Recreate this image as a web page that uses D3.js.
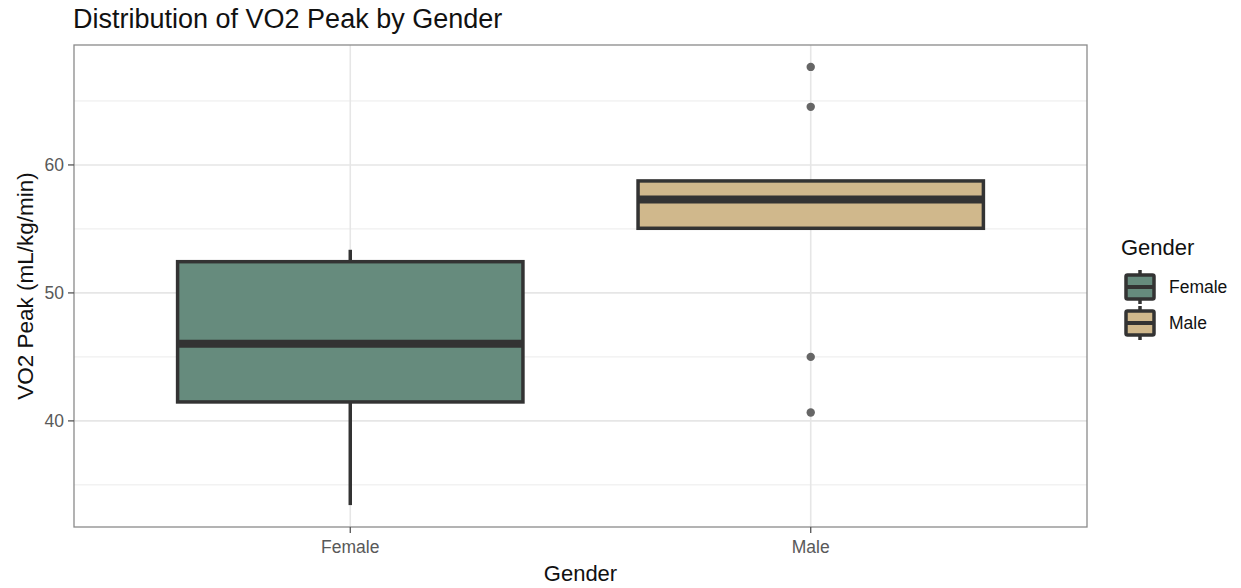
<!DOCTYPE html>
<html><head><meta charset="utf-8">
<script src="https://cdn.jsdelivr.net/npm/d3@7"></script>
<style>body{margin:0;background:#fff}svg{display:block}text{font-family:"Liberation Sans",Arial,sans-serif}</style>
</head><body><svg id="c" width="1241" height="588"></svg>
<script>
const categories = ["Female", "Male"];
const q1 = [41.48, 55.05];
const median = [46.03, 57.3];
const q3 = [52.44, 58.75];
const whiskerLow = [33.42, 55.05];
const whiskerHigh = [53.37, 58.75];
const outliers = [[], [67.66, 64.54, 45.0, 40.65]];
const fills = ["#668B7D", "#D0B88C"];
const yTicks = [40, 50, 60];
const yMinor = [35, 45, 55, 65];

const svg = d3.select("#c");
const L = 74, R = 1087, T = 45, B = 527;
const allVals = whiskerLow.concat(whiskerHigh, outliers.flat());
const lo = d3.min(allVals), hi = d3.max(allVals), pad = (hi - lo) * 0.05;
const y = d3.scaleLinear().domain([lo - pad, hi + pad]).range([B, T]);
// discrete x scale with ggplot-style 0.6 expansion on each side
const x = d3.scaleLinear().domain([0.4, categories.length + 0.6]).range([L, R]);
const xc = c => x(categories.indexOf(c) + 1);
const bw = x(1.75) - x(1);

// grid
const g = svg.append("g");
yMinor.forEach(v => g.append("line").attr("x1", L).attr("x2", R).attr("y1", y(v)).attr("y2", y(v)).attr("stroke", "#ebebeb").attr("stroke-width", 1));
yTicks.forEach(v => g.append("line").attr("x1", L).attr("x2", R).attr("y1", y(v)).attr("y2", y(v)).attr("stroke", "#e6e6e6").attr("stroke-width", 1.6));
categories.forEach(c => g.append("line").attr("x1", xc(c)).attr("x2", xc(c)).attr("y1", T).attr("y2", B).attr("stroke", "#e6e6e6").attr("stroke-width", 1.6));

// boxes
categories.forEach((c, i) => {
  const cx = xc(c);
  const bg = svg.append("g");
  bg.append("line").attr("x1", cx).attr("x2", cx).attr("y1", y(q3[i])).attr("y2", y(whiskerHigh[i])).attr("stroke", "#333").attr("stroke-width", 3.5);
  bg.append("line").attr("x1", cx).attr("x2", cx).attr("y1", y(q1[i])).attr("y2", y(whiskerLow[i])).attr("stroke", "#333").attr("stroke-width", 3.5);
  bg.append("rect").attr("x", cx - bw / 2).attr("width", bw).attr("y", y(q3[i])).attr("height", y(q1[i]) - y(q3[i]))
    .attr("fill", fills[i]).attr("stroke", "#333").attr("stroke-width", 3.5);
  bg.append("line").attr("x1", cx - bw / 2).attr("x2", cx + bw / 2).attr("y1", y(median[i])).attr("y2", y(median[i])).attr("stroke", "#333").attr("stroke-width", 8);
  outliers[i].forEach(v => bg.append("circle").attr("cx", cx).attr("cy", y(v)).attr("r", 4.2).attr("fill", "#666"));
});

// panel border
svg.append("rect").attr("x", L).attr("y", T).attr("width", R - L).attr("height", B - T).attr("fill", "none").attr("stroke", "#8a8a8a").attr("stroke-width", 1.3);

// axes
yTicks.forEach(v => {
  svg.append("line").attr("x1", L - 6).attr("x2", L).attr("y1", y(v)).attr("y2", y(v)).attr("stroke", "#555").attr("stroke-width", 1.3);
  svg.append("text").attr("x", 64).attr("y", y(v)).attr("dy", "0.36em").attr("text-anchor", "end").attr("font-size", 17.5).attr("fill", "#595959").text(v);
});
categories.forEach(c => {
  svg.append("line").attr("x1", xc(c)).attr("x2", xc(c)).attr("y1", B).attr("y2", B + 6).attr("stroke", "#555").attr("stroke-width", 1.3);
  svg.append("text").attr("x", xc(c)).attr("y", 553).attr("text-anchor", "middle").attr("font-size", 17.5).attr("fill", "#595959").text(c);
});

svg.append("text").attr("x", 73).attr("y", 28).attr("font-size", 27).attr("fill", "#111").text("Distribution of VO2 Peak by Gender");
svg.append("text").attr("x", (L + R) / 2).attr("y", 581).attr("text-anchor", "middle").attr("font-size", 22).attr("fill", "#111").text("Gender");
svg.append("text").attr("transform", `translate(33,${(T + B) / 2}) rotate(-90)`).attr("text-anchor", "middle").attr("font-size", 22.5).attr("fill", "#111").text("VO2 Peak (mL/kg/min)");

// legend
svg.append("text").attr("x", 1121).attr("y", 255).attr("font-size", 22).attr("fill", "#111").text("Gender");
categories.forEach((c, i) => {
  const ky = 270 + i * 36, kx = 1140;
  const lg = svg.append("g");
  lg.append("line").attr("x1", kx).attr("x2", kx).attr("y1", ky).attr("y2", ky + 34).attr("stroke", "#333").attr("stroke-width", 3.5);
  lg.append("rect").attr("x", kx - 14).attr("y", ky + 5).attr("width", 28).attr("height", 24).attr("rx", 1.5).attr("fill", fills[i]).attr("stroke", "#333").attr("stroke-width", 3.5);
  lg.append("line").attr("x1", kx - 14).attr("x2", kx + 14).attr("y1", ky + 17).attr("y2", ky + 17).attr("stroke", "#333").attr("stroke-width", 4);
  lg.append("text").attr("x", 1169).attr("y", ky + 17).attr("dy", "0.36em").attr("font-size", 17.5).attr("fill", "#111").text(c);
});
</script></body></html>
